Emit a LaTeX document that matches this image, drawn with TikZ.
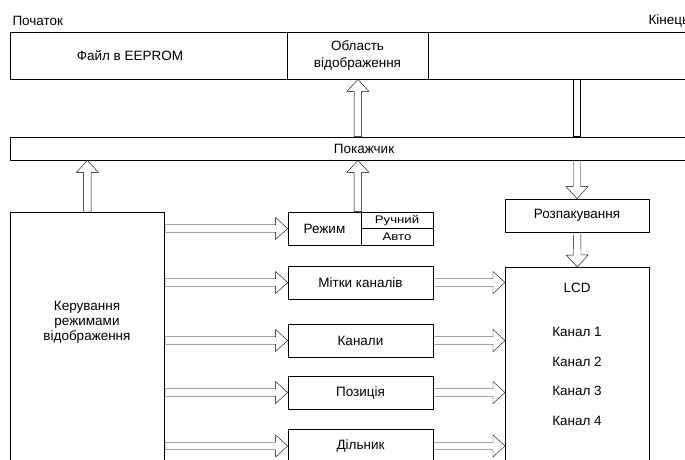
\documentclass[tikz,border=0pt]{standalone}
\usepackage{fontspec}
\setmainfont{Liberation Sans}
\newfontfamily\widesans[FakeStretch=1.2]{Liberation Sans}
\usetikzlibrary{calc}

\newcommand{\blocksize}{\fontsize{13.5}{15}\selectfont}

\tikzset{
  box/.style={draw, line width=0.8pt, inner sep=1pt, align=center, font=\blocksize},
  % wide hollow arrow between two points
  hollow/.style={line width=0.7pt, to path={
      ($(\tikztostart)!3.75pt!90:(\tikztotarget)$)
      -- ($($(\tikztotarget)!12pt!(\tikztostart)$)!3.75pt!-90:(\tikztostart)$)
      -- ($($(\tikztotarget)!12pt!(\tikztostart)$)!11pt!-90:(\tikztostart)$)
      -- (\tikztotarget)
      -- ($($(\tikztotarget)!12pt!(\tikztostart)$)!11pt!90:(\tikztostart)$)
      -- ($($(\tikztotarget)!12pt!(\tikztostart)$)!3.75pt!90:(\tikztostart)$)
      -- ($(\tikztostart)!3.75pt!-90:(\tikztotarget)$)
      -- cycle}},
}

\begin{document}
\begin{tikzpicture}[x=1pt, y=-1pt]
\clip (0,0) rectangle (685,459);

\node[anchor=west, font=\blocksize] (begin) at (9,21) {Початок};
\node[anchor=west, font=\blocksize] (end) at (645,21) {Кінець};

% memory line
\node[box, minimum width=277, minimum height=47] (file) at (148.5,55.5) {};
\node[font=\blocksize] (filetext) at (130,56) {Файл в EEPROM};
\node[box, minimum width=141, minimum height=47] (area) at (357.5,55.5) {Область\\[2pt]відображення};
\node[box, minimum width=290, minimum height=47] (rest) at (573,55.5) {};

\node[box, minimum width=708, minimum height=23] (ptr) at (364,148.5) {Покажчик};

% control block
\node[box, minimum width=154, minimum height=270, anchor=north west] (ctrl) at (10,212) {};
\node[align=center, font=\blocksize] (ctrltext) at (87,322) {Керування\\режимами\\відображення};

\node[box, minimum width=73, minimum height=33] (mode) at (324.5,228.5) {Режим};
\node[box, minimum width=72, minimum height=16.5, font=\widesans\fontsize{11}{13}\selectfont] (manual) at (397,220.25) {Ручний};
\node[box, minimum width=72, minimum height=16.5, font=\widesans\fontsize{11}{13}\selectfont] (auto) at (397,236.75) {Авто};

\node[box, minimum width=145, minimum height=33] (labels) at (360.5,282.5) {Мітки каналів};
\node[box, minimum width=145, minimum height=33] (channels) at (360.5,340.5) {Канали};
\node[box, minimum width=145, minimum height=33] (position) at (360.5,392.5) {Позиція};
\node[box, minimum width=145, minimum height=34] (divider) at (360.5,446) {Дільник};

\node[box, minimum width=144, minimum height=33] (unpack) at (577,215.5) {Розпакування};
\node[box, minimum width=144, minimum height=210, anchor=north west] (lcd) at (505,267) {};
\node[font=\blocksize] (lcdname) at (577,288) {LCD};
\foreach \i/\y in {1/332,2/362,3/391,4/421}
  \node[font=\blocksize] (ch\i) at (577,\y) {Канал \i};

% arrows
\coordinate (modeout) at ([xshift=-3.5pt]mode.north east);
\draw (ctrl.north) to[hollow] (ctrl.north |- ptr.south);
\draw (modeout) to[hollow] (modeout |- ptr.south);
\draw (ptr.north -| modeout) to[hollow] (area.south -| modeout);
\draw[line width=0.7pt] ($(rest.south -| unpack.north)+(-3.75,0)$) rectangle ($(ptr.north -| unpack.north)+(3.75,0)$);
\draw (ptr.south -| unpack.north) to[hollow] (unpack.north);
\draw (unpack.south) to[hollow] (lcd.north);

\foreach \b in {mode,labels,channels,position,divider}
  \draw (ctrl.east |- \b.west) to[hollow] (\b.west);
\foreach \b in {labels,channels,position,divider}
  \draw (\b.east) to[hollow] (\b.east -| lcd.west);
\end{tikzpicture}
\end{document}
